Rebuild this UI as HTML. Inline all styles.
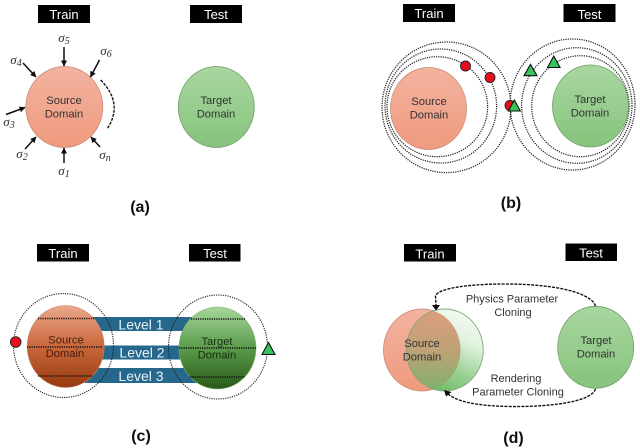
<!DOCTYPE html>
<html><head><meta charset="utf-8"><style>
html,body{margin:0;padding:0;background:#fff;width:640px;height:448px;overflow:hidden}
svg{display:block}
text{font-family:"Liberation Sans",sans-serif;fill:#333;font-size:11.2px;text-anchor:middle}
.w{fill:#fff;font-size:13px}
.p{fill:#111;font-size:16px;font-weight:bold}
.l{fill:#e8f2f8;font-size:14px}
.t{font-size:11px}
.s{font-family:"Liberation Serif",serif;font-style:italic;font-size:13px}
.d{fill:none;stroke:#222;stroke-width:1.25;stroke-dasharray:1.2 1.1}
.a{stroke:#111;stroke-width:1.5;marker-end:url(#ah)}
.b{fill:none;stroke:#111;stroke-width:1.35;stroke-dasharray:3 1.2}
</style></head><body>
<svg width="640" height="448" viewBox="0 0 640 448" xmlns="http://www.w3.org/2000/svg">
<defs>
<linearGradient id="o" x1="0" y1="0" x2="0" y2="1"><stop offset="0" stop-color="#f2b3a0"/><stop offset="1" stop-color="#f09a7e"/></linearGradient>
<linearGradient id="g" x1="0" y1="0" x2="0" y2="1"><stop offset="0" stop-color="#a9d6a0"/><stop offset="1" stop-color="#86c47c"/></linearGradient>
<linearGradient id="od" x1="0" y1="0" x2="0" y2="1"><stop offset="0" stop-color="#eaa78c"/><stop offset=".5" stop-color="#c9683c"/><stop offset="1" stop-color="#97390f"/></linearGradient>
<linearGradient id="gd" x1="0" y1="0" x2="0" y2="1"><stop offset="0" stop-color="#a5d79a"/><stop offset=".5" stop-color="#5b9a4c"/><stop offset="1" stop-color="#285a18"/></linearGradient>
<linearGradient id="cr" x1="0.35" y1="1" x2="0.8" y2="0.05"><stop offset="0" stop-color="#6cba66"/><stop offset=".35" stop-color="#9ed298"/><stop offset=".7" stop-color="#e2f2df"/><stop offset="1" stop-color="#f4faf2"/></linearGradient>
<linearGradient id="ln" x1="0" y1="0" x2="0" y2="1"><stop offset="0" stop-color="#dc9d7e"/><stop offset=".5" stop-color="#bfa276"/><stop offset="1" stop-color="#7fb06e"/></linearGradient>
<clipPath id="lc"><ellipse cx="422" cy="350" rx="38.500" ry="41"/></clipPath>
<marker id="ah" markerWidth="7" markerHeight="7" refX="5.500" refY="3" orient="auto" markerUnits="userSpaceOnUse"><path d="M0 0L6 3L0 6z" fill="#111"/></marker>
<filter id="bl" x="-2%" y="-2%" width="104%" height="104%"><feGaussianBlur stdDeviation="0.35"/></filter>
</defs>
<g filter="url(#bl)">

<!-- a -->
<rect x="38" y="5" width="52" height="18" fill="#000"/><text class="w" x="64" y="19">Train</text>
<rect x="190" y="5" width="52" height="18" fill="#000"/><text class="w" x="216" y="19">Test</text>
<ellipse cx="64.300" cy="107" rx="38.500" ry="40.500" fill="url(#o)" stroke="#c98a72" stroke-width=".8"/>
<text x="64" y="104">Source</text><text x="64" y="117.500">Domain</text>
<ellipse cx="216.300" cy="107" rx="38" ry="40.500" fill="url(#g)" stroke="#6f9f68" stroke-width=".8"/>
<text x="216" y="104">Target</text><text x="216" y="117.500">Domain</text>
<line class="a" x1="64" y1="47" x2="64" y2="66"/>
<line class="a" x1="23" y1="63" x2="36" y2="77"/>
<line class="a" x1="99.500" y1="60" x2="90.500" y2="77"/>
<line class="a" x1="6" y1="114.500" x2="25" y2="107.500"/>
<line class="a" x1="25" y1="149" x2="36" y2="137"/>
<line class="a" x1="64" y1="163" x2="64" y2="148"/>
<line class="a" x1="100" y1="147" x2="91" y2="137"/>
<path class="b" d="M100.700 80Q124 104 107 129"/>
<text class="s" x="64" y="42">σ<tspan font-size="10" dy="2">5</tspan></text>
<text class="s" x="106" y="55">σ<tspan font-size="10" dy="2">6</tspan></text>
<text class="s" x="16" y="64">σ<tspan font-size="10" dy="2">4</tspan></text>
<text class="s" x="9" y="126">σ<tspan font-size="10" dy="2">3</tspan></text>
<text class="s" x="22" y="158">σ<tspan font-size="10" dy="2">2</tspan></text>
<text class="s" x="64" y="175">σ<tspan font-size="10" dy="2">1</tspan></text>
<text class="s" x="105" y="159">σ<tspan font-size="10" dy="2">n</tspan></text>
<text class="p" x="140" y="212">(a)</text>

<!-- b -->
<rect x="403" y="4" width="52" height="18" fill="#000"/><text class="w" x="429" y="18">Train</text>
<rect x="563.500" y="4" width="52" height="18" fill="#000"/><text class="w" x="589.500" y="19">Test</text>
<ellipse class="d" cx="446.500" cy="107.300" rx="64.500" ry="65.300"/>
<ellipse class="d" cx="440.800" cy="106" rx="55.800" ry="57"/>
<ellipse class="d" cx="437.300" cy="106.700" rx="50.300" ry="50"/>
<ellipse class="d" cx="572.500" cy="104.500" rx="62.500" ry="65.500"/>
<ellipse class="d" cx="576.800" cy="105.500" rx="55.200" ry="57.800"/>
<ellipse class="d" cx="580.400" cy="106.200" rx="48.700" ry="50.500"/>
<ellipse cx="428.500" cy="108.500" rx="38" ry="41" fill="url(#o)" stroke="#c98a72" stroke-width=".8"/>
<text x="429" y="105">Source</text><text x="429" y="118.500">Domain</text>
<ellipse cx="590.500" cy="106" rx="38" ry="41" fill="url(#g)" stroke="#6f9f68" stroke-width=".8"/>
<text x="590" y="103">Target</text><text x="590" y="116.500">Domain</text>
<circle cx="465.500" cy="66" r="5" fill="#e8101c" stroke="#222" stroke-width=".9"/>
<circle cx="490" cy="77.500" r="5" fill="#e8101c" stroke="#222" stroke-width=".9"/>
<circle cx="510" cy="105.500" r="5" fill="#e8101c" stroke="#222" stroke-width=".9"/>
<path d="M508.300 111L514.300 100L520.300 111z" fill="#37c45c" stroke="#111" stroke-width="1.100"/>
<path d="M524 75.700L530.500 64.300L537 75.700z" fill="#37c45c" stroke="#111" stroke-width="1.100"/>
<path d="M547.500 67.500L553.800 56L560 67.500z" fill="#37c45c" stroke="#111" stroke-width="1.100"/>
<text class="p" x="511" y="208">(b)</text>

<!-- c -->
<rect x="37" y="244" width="52" height="17.500" fill="#000"/><text class="w" x="63" y="258">Train</text>
<rect x="189" y="244" width="51.500" height="17.500" fill="#000"/><text class="w" x="215" y="258">Test</text>
<rect x="90" y="317" width="104" height="14" fill="#27678c"/>
<rect x="100" y="345.500" width="85" height="14" fill="#27678c"/>
<rect x="85" y="368" width="112" height="15" fill="#27678c"/>
<text class="l" x="141" y="329.500">Level 1</text>
<text class="l" x="142" y="357.500">Level 2</text>
<text class="l" x="141" y="381">Level 3</text>
<ellipse cx="65.700" cy="346.500" rx="38.500" ry="41" fill="url(#od)" stroke="#c98a72" stroke-width=".6"/>
<ellipse cx="217.500" cy="348" rx="38.500" ry="41" fill="url(#gd)" stroke="#7fb070" stroke-width=".6"/>
<text x="66" y="343.500" style="fill:#4a1a08">Source</text><text x="65" y="357" style="fill:#4a1a08">Domain</text>
<text x="217" y="345" style="fill:#12300c">Target</text><text x="217" y="358.500" style="fill:#12300c">Domain</text>
<ellipse class="d" cx="63.500" cy="345.500" rx="50" ry="52" style="stroke-width:1.100"/>
<ellipse class="d" cx="218" cy="347" rx="49.500" ry="52" style="stroke-width:1.100"/>
<path class="d" style="stroke:#111;stroke-width:1.400" d="M38 318.500H94M27 347H103M38 376H93M191 319H245M179 348H256M190 377H245"/>
<circle cx="15.700" cy="342" r="5.300" fill="#e8101c" stroke="#222" stroke-width=".9"/>
<path d="M262 354.500L268.500 342.500L275 354.500z" fill="#37c45c" stroke="#111" stroke-width="1.100"/>
<text class="p" x="141" y="441">(c)</text>

<!-- d -->
<rect x="404" y="244" width="52" height="17.500" fill="#000"/><text class="w" x="430" y="258.500">Train</text>
<rect x="565.500" y="243.500" width="51.500" height="17.500" fill="#000"/><text class="w" x="591" y="257.500">Test</text>
<ellipse cx="422" cy="350" rx="38.500" ry="41" fill="url(#o)" stroke="#c98a72" stroke-width=".8"/>
<ellipse cx="444.700" cy="350" rx="38.500" ry="41" fill="url(#cr)"/>
<ellipse cx="444.700" cy="350" rx="38.500" ry="41" fill="url(#ln)" clip-path="url(#lc)"/>
<ellipse cx="444.700" cy="350" rx="38.500" ry="41" fill="none" stroke="#7fa878" stroke-width=".9"/>
<text x="422" y="347">Source</text><text x="422" y="360.500">Domain</text>
<ellipse cx="595.700" cy="347.300" rx="38" ry="41" fill="url(#g)" stroke="#6f9f68" stroke-width=".8"/>
<text x="596" y="344">Target</text><text x="596" y="357.500">Domain</text>
<text class="t" x="512" y="302.500">Physics Parameter</text><text class="t" x="513" y="316">Cloning</text>
<text class="t" x="516" y="382">Rendering</text><text class="t" x="518" y="395.500">Parameter Cloning</text>
<path class="b" d="M595.500 306C592 294 560 284 505 284C465 284 437 289 435.500 296L436 306"/>
<path d="M432 305L440 305L436 310.500z" fill="#111"/>
<path class="b" d="M595.500 389C592 400 560 407 510 406.500C475 406 455 401 447 393"/>
<path d="M444 390L451.500 392L446 396.500z" fill="#111"/>
<text class="p" x="513.500" y="443">(d)</text>
</g>
</svg>
</body></html>
